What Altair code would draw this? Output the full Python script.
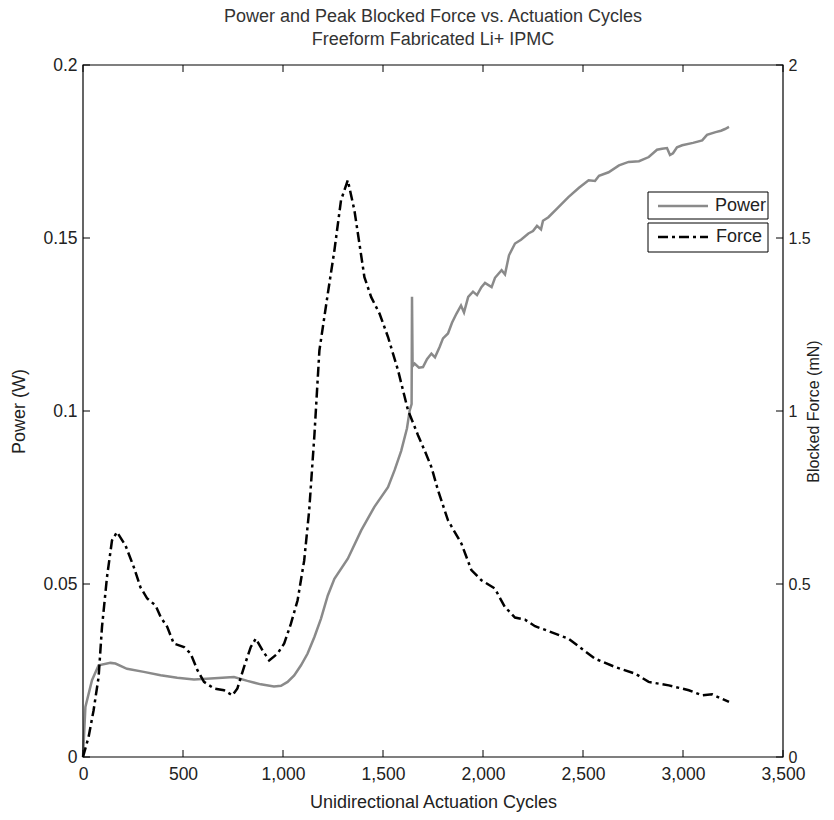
import altair as alt
import pandas as pd

# ---- data ----
power_cycles = [0, 12, 45, 78, 137, 162, 220, 304, 388, 471, 555, 638, 755, 822, 889, 955,
                990, 1023, 1056, 1090, 1123, 1157, 1190, 1224, 1257, 1324, 1391, 1457, 1525,
                1558, 1591, 1620, 1633, 1643, 1645, 1648, 1658, 1680, 1700, 1720, 1742, 1760,
                1783, 1800, 1825, 1845, 1867, 1890, 1905, 1926, 1950, 1970, 1992, 2010, 2043,
                2060, 2093, 2110, 2130, 2160, 2190, 2227, 2250, 2270, 2290, 2300, 2327, 2370,
                2427, 2480, 2528, 2560, 2580, 2628, 2680, 2728, 2780, 2829, 2870, 2895, 2920,
                2935, 2950, 2970, 2996, 3050, 3096, 3120, 3163, 3190, 3210, 3230]
power_w = [0.0, 0.0145, 0.0222, 0.0265, 0.0272, 0.027, 0.0255, 0.0246, 0.0236, 0.0229, 0.0224,
           0.0227, 0.0231, 0.022, 0.021, 0.0204, 0.0206, 0.0217, 0.0236, 0.0265, 0.0299, 0.0347,
           0.040, 0.0467, 0.0515, 0.0573, 0.0655, 0.0723, 0.078, 0.0829, 0.0885, 0.095, 0.1,
           0.102, 0.133, 0.113, 0.1137, 0.1125, 0.1127, 0.115, 0.1166, 0.1155, 0.1185, 0.121,
           0.1224, 0.1255, 0.1281, 0.1305, 0.1285, 0.133, 0.1345, 0.1335, 0.1358, 0.137, 0.1358,
           0.1385, 0.1407, 0.1395, 0.145, 0.1484, 0.1495, 0.1513, 0.152, 0.1535, 0.1525, 0.155,
           0.156, 0.1585, 0.1618, 0.1645, 0.1667, 0.1665, 0.168, 0.169, 0.171, 0.172, 0.1722,
           0.1734, 0.1755, 0.1758, 0.176, 0.174, 0.1745, 0.1762, 0.1768, 0.1775, 0.1782, 0.1798,
           0.1806, 0.181, 0.1815, 0.1821]

force_cycles = [0, 28, 53, 78, 95, 120, 145, 170, 212, 254, 287, 321, 363, 388, 421, 454, 505,
                538, 572, 605, 655, 705, 747, 772, 805, 839, 864, 898, 931, 973, 1006, 1040, 1073,
                1106, 1131, 1157, 1182, 1224, 1257, 1290, 1324, 1357, 1382, 1407, 1441, 1483,
                1525, 1575, 1625, 1675, 1708, 1742, 1775, 1825, 1892, 1942, 1992, 2059, 2109,
                2160, 2210, 2260, 2327, 2427, 2494, 2561, 2661, 2761, 2828, 2929, 3029, 3096,
                3146, 3230]
force_mn = [0.0, 0.058, 0.135, 0.231, 0.376, 0.52, 0.626, 0.65, 0.612, 0.549, 0.491, 0.458,
            0.438, 0.405, 0.376, 0.328, 0.318, 0.299, 0.251, 0.217, 0.198, 0.193, 0.178, 0.198,
            0.26, 0.318, 0.342, 0.308, 0.279, 0.299, 0.328, 0.386, 0.453, 0.568, 0.713, 0.93,
            1.175, 1.339, 1.464, 1.609, 1.667, 1.58, 1.484, 1.387, 1.329, 1.281, 1.214, 1.118,
            1.002, 0.93, 0.886, 0.838, 0.771, 0.684, 0.617, 0.54, 0.511, 0.487, 0.434, 0.403,
            0.397, 0.378, 0.364, 0.342, 0.313, 0.284, 0.26, 0.241, 0.217, 0.207, 0.193, 0.178,
            0.181, 0.159]

x_ticks = [0, 500, 1000, 1500, 2000, 2500, 3000, 3500]
power_ticks = [0, 0.05, 0.1, 0.15, 0.2]
force_ticks = [0, 0.5, 1, 1.5, 2]
legend_labels = ["Power", "Force"]
title_lines = ["Power and Peak Blocked Force vs. Actuation Cycles", "Freeform Fabricated Li+ IPMC"]

W, H = 700, 692
FONT = "Liberation Sans"
TXT = "#222222"
GRAY = "#8a8a8a"
DASH = [10, 4, 3, 4]

power_df = pd.DataFrame({"cycles": power_cycles, "power": power_w})
force_df = pd.DataFrame({"cycles": force_cycles, "force": force_mn})
xt_df = pd.DataFrame({"cycles": x_ticks})
pt_df = pd.DataFrame({"power": power_ticks})
ft_df = pd.DataFrame({"force": force_ticks})
one = pd.DataFrame({"k": [0]})

x_scale = alt.Scale(domain=[0, 3500], nice=False, zero=False)
p_scale = alt.Scale(domain=[0, 0.2], nice=False)
f_scale = alt.Scale(domain=[0, 2], nice=False)

x_axis = alt.Axis(values=x_ticks, format=",d", title="Unidirectional Actuation Cycles",
                  ticks=False, domain=False, grid=False, labelFlush=False, labelPadding=8,
                  titlePadding=11)

power_line = alt.Chart(power_df).mark_line(color=GRAY, strokeWidth=2.5).encode(
    x=alt.X("cycles:Q", scale=x_scale, axis=x_axis),
    y=alt.Y("power:Q", scale=p_scale,
            axis=alt.Axis(orient="left", values=power_ticks, format="~g", title="Power (W)",
                          ticks=False, domain=False, grid=False, labelPadding=6,
                          titlePadding=14, labelFlush=False)),
)
xt_bottom = alt.Chart(xt_df).mark_rule(color="black", strokeWidth=1).encode(
    x=alt.X("cycles:Q", scale=x_scale), y=alt.value(H), y2=alt.value(H - 7))
xt_top = alt.Chart(xt_df).mark_rule(color="black", strokeWidth=1).encode(
    x=alt.X("cycles:Q", scale=x_scale), y=alt.value(0), y2=alt.value(7))
pt_left = alt.Chart(pt_df).mark_rule(color="black", strokeWidth=1).encode(
    y=alt.Y("power:Q", scale=p_scale), x=alt.value(0), x2=alt.value(7))

left_group = alt.layer(power_line, xt_bottom, xt_top, pt_left)

force_line = alt.Chart(force_df).mark_line(color="black", strokeWidth=2.5, strokeDash=DASH).encode(
    x=alt.X("cycles:Q", scale=x_scale),
    y=alt.Y("force:Q", scale=f_scale,
            axis=alt.Axis(orient="right", values=force_ticks, format="~g",
                          title="Blocked Force (mN)", titleAngle=270,
                          labelFontSize=16, titleFontSize=16,
                          ticks=False, domain=False, grid=False, labelPadding=5,
                          titlePadding=11, labelFlush=False)),
)
ft_right = alt.Chart(ft_df).mark_rule(color="black", strokeWidth=1).encode(
    y=alt.Y("force:Q", scale=f_scale), x=alt.value(W), x2=alt.value(W - 7))

right_group = alt.layer(force_line, ft_right)

border = alt.Chart(one).mark_rect(fill=None, stroke="black", strokeWidth=1.2).encode(
    x=alt.value(0), x2=alt.value(W), y=alt.value(0), y2=alt.value(H))

# legend (two boxes, as in the reference)
box1 = alt.Chart(one).mark_rect(fill="white", stroke="black", strokeWidth=1).encode(
    x=alt.value(565), x2=alt.value(685), y=alt.value(127), y2=alt.value(154))
box2 = alt.Chart(one).mark_rect(fill="white", stroke="black", strokeWidth=1).encode(
    x=alt.value(565), x2=alt.value(685), y=alt.value(158), y2=alt.value(187))
sym1 = alt.Chart(one).mark_rule(color=GRAY, strokeWidth=2.5).encode(
    x=alt.value(575), x2=alt.value(625), y=alt.value(141))
sym2 = alt.Chart(one).mark_rule(color="black", strokeWidth=2.5, strokeDash=DASH).encode(
    x=alt.value(575), x2=alt.value(625), y=alt.value(172))
lab1 = alt.Chart(one).mark_text(align="left", baseline="middle", font=FONT, fontSize=18,
                                color=TXT).encode(
    x=alt.value(632), y=alt.value(141), text=alt.value(legend_labels[0]))
lab2 = alt.Chart(one).mark_text(align="left", baseline="middle", font=FONT, fontSize=18,
                                color=TXT).encode(
    x=alt.value(633), y=alt.value(172), text=alt.value(legend_labels[1]))

chart = alt.layer(
    left_group, right_group, border, box1, box2, sym1, sym2, lab1, lab2
).resolve_scale(y="independent").properties(
    width=W, height=H,
    background="white",
    title=alt.TitleParams(text=title_lines, font=FONT, fontSize=18, fontWeight="normal",
                          color="#333333", anchor="middle", offset=7, lineHeight=23),
    padding={"left": 75, "top": 57, "right": 43, "bottom": 55},
    autosize=alt.AutoSizeParams(type="none"),
).configure_view(
    stroke=None
).configure_axis(
    labelFont=FONT, titleFont=FONT, labelFontSize=17.5, titleFontSize=18,
    labelColor=TXT, titleColor=TXT, titleFontWeight="normal"
)

chart.save("out.html", embed_options={"renderer": "svg", "actions": False})
